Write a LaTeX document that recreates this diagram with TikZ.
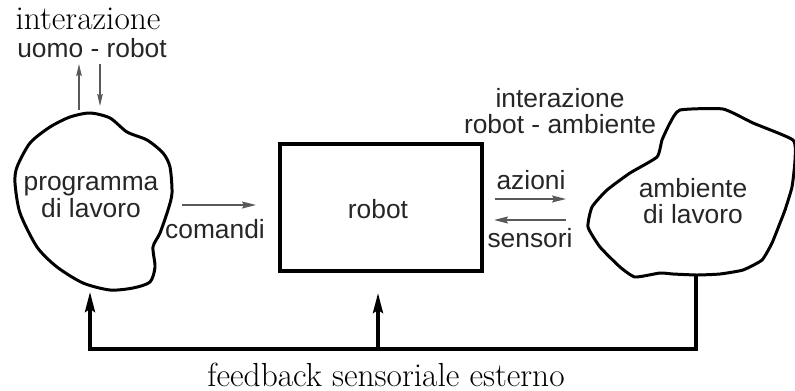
\documentclass[tikz,border=0pt]{standalone}
\usepackage{fontspec}
\setsansfont{Liberation Sans}
\usepackage{tikz}
\usetikzlibrary{arrows.meta}

\begin{document}
\begin{tikzpicture}[x=0.2mm, y=-0.2mm,
  blob/.style={draw, line width=1.7pt, line join=round},
  lbl/.style={font=\sffamily\fontsize{15}{15}\selectfont, align=center,
    inner sep=0pt, text=black!85},
  serif/.style={font=\fontsize{19}{19}\selectfont, inner sep=0pt},
  robotbox/.style={rectangle, draw, line width=2.2pt,
    minimum width=40.4mm, minimum height=25.4mm, inner sep=0pt},
  garr/.style={-{Stealth[length=2.8mm, width=1.4mm, inset=0.4mm]},
    draw=black!65, line width=0.8pt},
  sarr/.style={-{Stealth[length=2.4mm, width=1.1mm, inset=0.3mm]},
    draw=black!65, line width=0.7pt},
  fb/.style={line width=1.9pt},
  fbarr/.style={fb, -{Stealth[length=4mm, width=2mm, inset=0.6mm]}}
]
\useasboundingbox (0,0) rectangle (795,390);

% Left blob: work program
\draw[blob] plot[smooth cycle, tension=0.45] coordinates {
  (90,113) (110,118) (127,132) (147,140) (163,153) (170,167) (172,193)
  (168,210) (160,233) (153,247) (155,267) (150,282) (133,288) (110,290)
  (83,283) (57,267) (37,247) (20,213) (15,183) (17,167) (30,143)
  (50,127) (70,117)};
\node[lbl] (prog) at (91,197) {programma\\di lavoro};
\coordinate (progbot) at (90,292);

% Right blob: work environment
\draw[blob] plot[smooth cycle, tension=0.3] coordinates {
  (680,110) (723,109) (753,123) (793,140) (795,160) (792,187) (785,210)
  (780,223) (772,243) (762,260) (743,270) (720,274) (697,275) (673,274)
  (660,273) (635,277) (620,267) (600,247) (588,227) (592,207) (607,190)
  (630,173) (657,157) (662,140) (670,123)};
\node[lbl] (amb) at (693,201) {ambiente\\di lavoro};
\coordinate (ambbot) at (696,276);

% Robot
\node[robotbox] (robot) at (381,207.5) {};
\node[lbl] (robtxt) at (378,209) {robot};

% Human - robot interaction
\node[serif, anchor=base] (intuomo) at (88,29) {interazione};
\node[lbl, anchor=base] (uomo) at (92,57) {uomo - robot};
\coordinate (hu1) at (79,110);
\coordinate (hu2) at (79,64);
\coordinate (hu3) at (100,64);
\coordinate (hu4) at (100,106);
\draw[sarr] (hu1) -- (hu2);
\draw[sarr] (hu3) -- (hu4);

% Commands
\node[lbl] (com) at (215,229) {comandi};
\coordinate (c1) at (182,205);
\coordinate (c2) at (256,205);
\draw[garr] (c1) -- (c2);

% Robot - environment interaction
\node[lbl] (intamb) at (560,111) {interazione\\robot - ambiente};
\node[lbl] (az) at (531,180) {azioni};
\node[lbl] (sens) at (530,238) {sensori};
\coordinate (a1) at (495,199);
\coordinate (a2) at (566,199);
\coordinate (s1) at (566,220);
\coordinate (s2) at (494,220);
\draw[garr] (a1) -- (a2);
\draw[garr] (s1) -- (s2);

% External sensory feedback
\coordinate (fbmid) at (378,349);
\coordinate (robbot) at (378,293);
\draw[fbarr] (ambbot) |- (fbmid) -| (progbot);
\draw[fbarr] (fbmid) -- (robbot);
\node[serif, anchor=base] (fbtxt) at (386,386) {feedback sensoriale esterno};

\end{tikzpicture}
\end{document}
